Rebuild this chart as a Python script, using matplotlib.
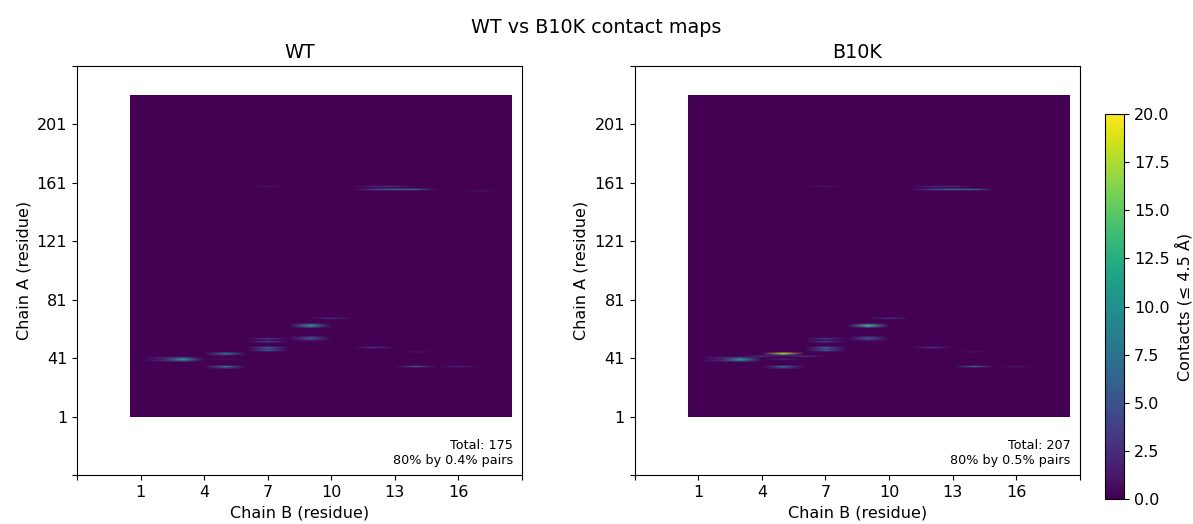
import numpy as np
import matplotlib
matplotlib.use("Agg")
from matplotlib import pyplot as plt

plt.rcParams["font.size"] = 11.5

N_A = 220  # chain A residues (rows)
N_B = 18   # chain B residues (columns)

# contacts: chain B residue, chain A residue, count
wt_b = [2, 2, 2, 3, 3, 3, 5, 5, 5, 5, 5, 7, 7, 7, 7, 7, 9, 9, 9, 9, 9, 9,
        10, 12, 14, 14, 16, 7, 12, 13, 14, 12, 13, 17]
wt_a = [39, 40, 41, 40, 39, 41, 44, 43, 40, 35, 34, 54, 52, 48, 46, 47, 63, 62, 64, 54, 55, 53,
        68, 48, 45, 35, 35, 158, 156, 156, 156, 158, 158, 155]
wt_n = [2, 1, 2, 12, 6, 4, 9, 3, 1, 8, 3, 4, 4, 6, 6, 3, 11, 5, 4, 5, 4, 2,
        3, 3, 1, 5, 2, 1, 4, 7, 6, 2, 2, 1]

mut_b = [2, 2, 2, 3, 3, 3, 4, 6, 5, 5, 5, 5, 5, 7, 7, 7, 7, 7, 9, 9, 9, 9, 9, 9,
         10, 12, 14, 14, 16, 7, 12, 13, 14, 12, 13]
mut_a = [39, 40, 41, 40, 39, 41, 42, 42, 44, 43, 40, 35, 34, 54, 52, 48, 46, 47, 63, 62, 64, 54, 55, 53,
         68, 48, 45, 35, 35, 158, 156, 156, 156, 158, 158]
mut_n = [2, 1, 2, 12, 7, 4, 3, 3, 18, 5, 2, 7, 3, 4, 4, 6, 6, 3, 14, 6, 4, 5, 4, 2,
         3, 3, 1, 6, 1, 1, 4, 7, 6, 2, 2]

totals = [175, 207]
top_share = ["0.4%", "0.5%"]
titles = ["WT", "B10K"]


def _to_matrix(bs, as_, ns):
    m = np.zeros((N_A, N_B))
    for b, a, n in zip(bs, as_, ns):
        m[a - 1, b - 1] = n
    return m


maps = [_to_matrix(wt_b, wt_a, wt_n), _to_matrix(mut_b, mut_a, mut_n)]

fig = plt.figure(figsize=(11.93, 5.24), dpi=100)
axes = [fig.add_axes([0.0645, 0.0935, 0.373, 0.7805]),
        fig.add_axes([0.532, 0.0935, 0.373, 0.7805])]
cax = fig.add_axes([0.9266, 0.0477, 0.0159, 0.7347])

xticks = np.arange(-2, 20, 3)
yticks = np.arange(-39, 242, 40)
for ax, m, title, tot, share in zip(axes, maps, titles, totals, top_share):
    im = ax.imshow(m, origin="lower", cmap="viridis", vmin=0, vmax=20,
                   interpolation="bilinear", aspect="auto",
                   extent=(0.5, N_B + 0.5, 0.5, N_A + 0.5))
    ax.set_xlim(-2, 19)
    ax.set_ylim(-39, 241)
    ax.set_xticks(xticks)
    ax.set_xticklabels(["" if t in (-2, 19) else str(t) for t in xticks])
    ax.set_yticks(yticks)
    ax.set_yticklabels(["" if t in (-39, 241) else str(t) for t in yticks])
    ax.set_title(title)
    ax.set_xlabel("Chain B (residue)")
    ax.set_ylabel("Chain A (residue)")
    ax.text(0.98, 0.02, "Total: {t}\n80% by {s} pairs".format(t=tot, s=share),
            transform=ax.transAxes, ha="right", va="bottom", fontsize=9.2)

cb = fig.colorbar(im, cax=cax)
cb.set_ticks(np.arange(0, 20.1, 2.5))
cb.set_label("Contacts (≤ 4.5 Å)")

fig.suptitle("WT vs B10K contact maps", y=0.965)
fig.savefig("out.png", dpi=100)
